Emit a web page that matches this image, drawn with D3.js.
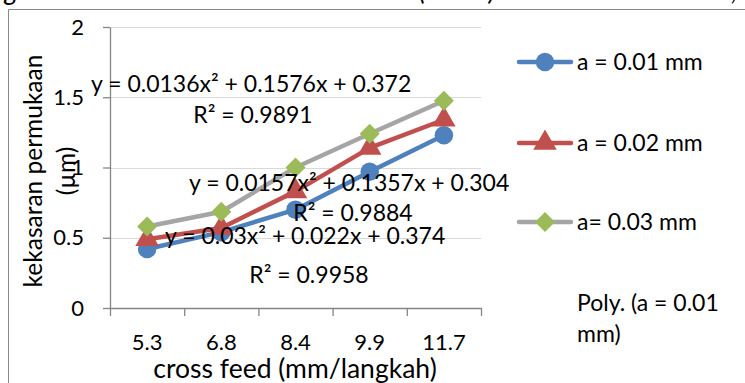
<!DOCTYPE html>
<html>
<head>
<meta charset="utf-8">
<script src="https://cdn.jsdelivr.net/npm/d3@7"></script>
<style>
  html, body { margin: 0; padding: 0; background: #fff; }
  svg { display: block; font-family: Lato, 'Open Sans', sans-serif; }
</style>
</head>
<body>
<svg id="chart" width="745" height="383"></svg>
<script>
// values
const categories = ['5.3', '6.8', '8.4', '9.9', '11.7'];
const seriesNames = ['a = 0.01 mm', 'a = 0.02 mm', 'a= 0.03 mm'];
const roughA001 = [0.42, 0.54, 0.70, 0.97, 1.23];
const roughA002 = [0.49, 0.57, 0.83, 1.14, 1.34];
const roughA003 = [0.58, 0.685, 1.00, 1.24, 1.475];
const yTicks = [0, 0.5, 1, 1.5, 2];
const trendEquations = ['y = 0.0136x² + 0.1576x + 0.372', 'y = 0.0157x² + 0.1357x + 0.304', 'y = 0.03x² + 0.022x + 0.374'];
const trendR2 = ['R² = 0.9891', 'R² = 0.9884', 'R² = 0.9958'];
const trendLegend = ['Poly. (a = 0.01', 'mm)'];

const svg = d3.select('#chart');

// page header, mostly cut off at the top
const header = svg.append('g').attr('font-style', 'italic').attr('font-size', 27).attr('fill', '#000');
header.append('text').attr('x', 157).attr('y', 0).attr('text-anchor', 'end').text('Engineering and Science');
header.append('text').attr('x', 283).attr('y', 0).text('Vol. 6 No. 1 (2020)');
header.append('text').attr('x', 507).attr('y', 0).text('E-ISSN: 2621-9794, P-ISSN');

// chart frame (left and top edges visible)
svg.append('path').attr('d', 'M8.5,383V9.5H745').attr('fill', 'none').attr('stroke', '#888').attr('stroke-width', 1);

const plotLeft = 110, plotRight = 481, plotTop = 27, plotBottom = 308;

const x = d3.scaleBand().domain(categories).range([plotLeft, plotRight]);
const xEdge = d3.scaleLinear().domain([0, categories.length]).range([plotLeft, plotRight]);
const y = d3.scaleLinear().domain([0, 2]).range([plotBottom, plotTop]);

// gridlines
svg.append('g')
  .selectAll('line')
  .data(yTicks.filter(d => d > 0))
  .join('line')
  .attr('x1', plotLeft).attr('x2', plotRight)
  .attr('y1', d => Math.round(y(d)) + 0.5).attr('y2', d => Math.round(y(d)) + 0.5)
  .attr('stroke', '#d9d9d9');

// y axis
const yAxis = svg.append('g')
  .attr('transform', `translate(${plotLeft},0)`)
  .call(d3.axisLeft(y).tickValues(yTicks).tickFormat(d3.format('')).tickSize(7).tickSizeOuter(0).tickPadding(19));

// x axis: ticks between categories, labels centred
const xTicks = svg.append('g')
  .attr('transform', `translate(0,${plotBottom})`)
  .call(d3.axisBottom(xEdge).tickValues(d3.range(categories.length + 1)).tickFormat('').tickSize(8).tickSizeOuter(0));
const xAxis = svg.append('g')
  .attr('transform', `translate(0,${plotBottom})`)
  .call(d3.axisBottom(x).tickSize(0).tickPadding(26));
xAxis.select('.domain').remove();

[yAxis, xTicks].forEach(g => {
  g.select('.domain').attr('stroke', '#868686').attr('stroke-width', 1.3);
  g.selectAll('.tick line').attr('stroke', '#868686').attr('stroke-width', 1.3);
});
[yAxis, xAxis].forEach(g => {
  g.selectAll('.tick text').attr('font-size', 22).attr('fill', '#000').attr('font-family', "Lato, 'Open Sans', sans-serif");
});

// axis titles
svg.append('text')
  .attr('x', 295).attr('y', 378)
  .attr('text-anchor', 'middle')
  .attr('font-size', 26.5)
  .text('cross feed (mm/langkah)');

const yTitle = svg.append('g').attr('transform', 'translate(0,171) rotate(-90)').attr('font-size', 24.5).attr('text-anchor', 'middle');
yTitle.append('text').attr('x', 0).attr('y', 42).text('kekasaran permukaan');
yTitle.append('text').attr('x', 0).attr('y', 75).text('(µm)');

// series
const series = [
  { name: seriesNames[0], values: roughA001, line: '#4f81bd', fill: '#4f81bd', symbol: d3.symbolCircle, size: 270, rot: 0 },
  { name: seriesNames[1], values: roughA002, line: '#c0504d', fill: '#c0504d', symbol: d3.symbolTriangle, size: 240, rot: 0 },
  { name: seriesNames[2], values: roughA003, line: '#a5a5a5', fill: '#9bbb59', symbol: d3.symbolSquare, size: 200, rot: 45 }
];

const cx = c => x(c) + x.bandwidth() / 2;
const line = d3.line().x((d, i) => cx(categories[i])).y(d => y(d));

series.forEach(s => {
  const g = svg.append('g');
  g.append('path')
    .attr('d', line(s.values))
    .attr('fill', 'none')
    .attr('stroke', s.line)
    .attr('stroke-width', 4.5)
    .attr('stroke-linejoin', 'round')
    .attr('stroke-linecap', 'round');
  g.selectAll('path.marker')
    .data(s.values)
    .join('path')
    .attr('class', 'marker')
    .attr('d', d3.symbol(s.symbol, s.size))
    .attr('transform', (d, i) => `translate(${cx(categories[i])},${y(d)}) rotate(${s.rot})`)
    .attr('fill', s.fill);
});

// trendline labels
const labels = svg.append('g').attr('font-size', 23).attr('fill', '#000');
const eqPos = [[91, 92], [189, 191], [165, 244]];
const r2Pos = [[253, 123], [353, 221], [309, 283]];
trendEquations.forEach((t, i) => {
  labels.append('text').attr('x', eqPos[i][0]).attr('y', eqPos[i][1]).text(t);
  labels.append('text').attr('x', r2Pos[i][0]).attr('y', r2Pos[i][1]).attr('text-anchor', 'middle').text(trendR2[i]);
});

// legend
const legendRows = [62, 143, 222];
const legend = svg.append('g').attr('font-size', 23);
series.forEach((s, i) => {
  const g = legend.append('g').attr('transform', `translate(0,${legendRows[i]})`);
  g.append('line').attr('x1', 519).attr('x2', 571).attr('stroke', s.line).attr('stroke-width', 4.5).attr('stroke-linecap', 'round');
  g.append('path').attr('d', d3.symbol(s.symbol, s.size)).attr('transform', `translate(545,0) rotate(${s.rot})`).attr('fill', s.fill);
  g.append('text').attr('x', 577).attr('y', 8).text(s.name);
});
legend.selectAll('text.poly')
  .data(trendLegend)
  .join('text')
  .attr('class', 'poly')
  .attr('x', 577)
  .attr('y', (d, i) => 311 + i * 31)
  .text(d => d);
</script>
</body>
</html>
